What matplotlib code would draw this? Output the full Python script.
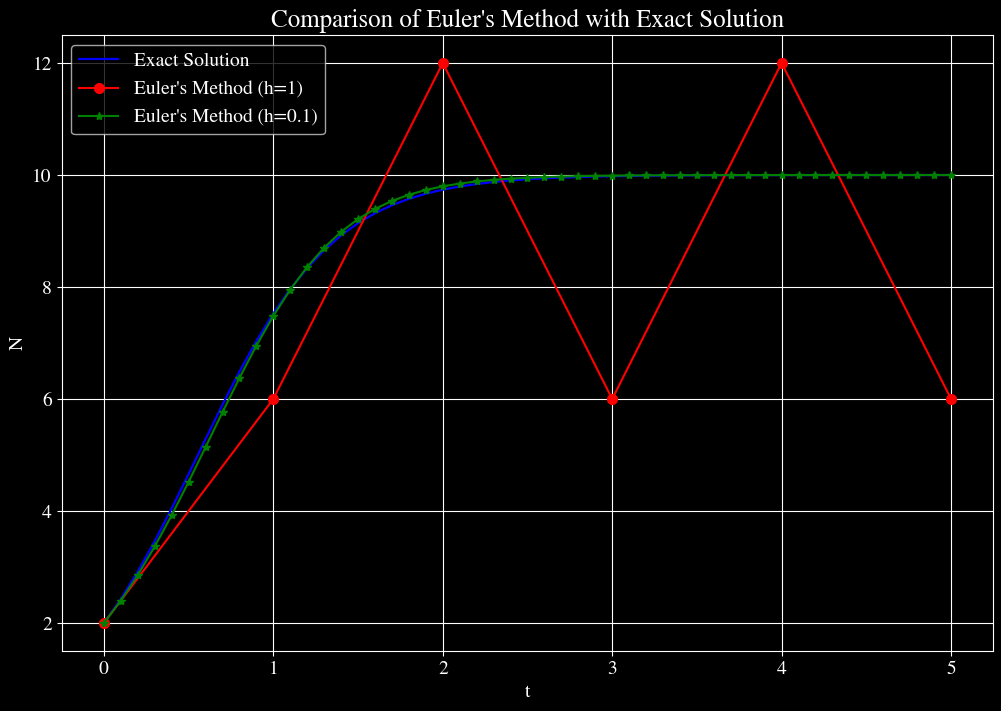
#!/usr/bin/env python3

import numpy as np
import matplotlib
matplotlib.use("Agg")
from matplotlib import pyplot as plt

# exact solution sampled every 0.1
t_exact = [round(0.1*i, 1) for i in range(51)]
N_exact = [2.0000, 2.4300, 2.9188, 3.4608, 4.0461, 4.6598, 5.2840, 5.8994, 6.4879, 7.0343,
           7.5282, 7.9637, 8.3393, 8.6573, 8.9224, 9.1404, 9.3174, 9.4603, 9.5745, 9.6655,
           9.7376, 9.7944, 9.8392, 9.8743, 9.9018, 9.9234, 9.9402, 9.9534, 9.9637, 9.9717,
           9.9779, 9.9828, 9.9866, 9.9896, 9.9919, 9.9937, 9.9951, 9.9962, 9.9970, 9.9977,
           9.9982, 9.9986, 9.9989, 9.9991, 9.9993, 9.9995, 9.9996, 9.9997, 9.9998, 9.9998,
           9.9999]

# Euler h=1
t_h1 = [0, 1, 2, 3, 4, 5]
N_h1 = [2, 6, 12, 6, 12, 6]

# Euler h=0.1
t_h01 = t_exact
N_h01 = [2.0000, 2.4000, 2.8560, 3.3661, 3.9244, 4.5205, 5.1397, 5.7642, 6.3746, 6.9524,
         7.4821, 7.9531, 8.3601, 8.7028, 8.9850, 9.2130, 9.3943, 9.5366, 9.6471, 9.7322,
         9.7974, 9.8470, 9.8847, 9.9132, 9.9347, 9.9509, 9.9631, 9.9723, 9.9792, 9.9844,
         9.9883, 9.9912, 9.9934, 9.9951, 9.9963, 9.9972, 9.9979, 9.9984, 9.9988, 9.9991,
         9.9993, 9.9995, 9.9996, 9.9997, 9.9998, 9.9998, 9.9999, 9.9999, 9.9999, 9.9999,
         10.0000]

plt.style.use("dark_background")
plt.rcParams["font.family"] = ["STIXGeneral", "DejaVu Serif"]
plt.rcParams["mathtext.fontset"] = "stix"

fig = plt.figure(figsize=(10.01, 7.11), dpi=100)
ax = fig.add_axes([0.0615, 0.0844, 0.9309, 0.8664])

ax.plot(t_exact, N_exact, color="blue", lw=1.6, label="Exact Solution")
ax.plot(t_h1, N_h1, "o-", color="red", ms=7, lw=1.5, label="Euler's Method (h=1)")
ax.plot(t_h01, N_h01, "*-", color="green", ms=6, lw=1.5, label="Euler's Method (h=0.1)")

ax.set_xlabel("t", fontsize=14)
ax.set_ylabel("N", fontsize=14)
ax.set_title("Comparison of Euler's Method with Exact Solution", fontsize=18)
ax.tick_params(labelsize=14)
ax.set_yticks([2, 4, 6, 8, 10, 12])
ax.grid(True, color="white", lw=0.8)
ax.legend(loc="upper left", fontsize=14, labelspacing=0.55)

fig.savefig("out.png", dpi=100)
